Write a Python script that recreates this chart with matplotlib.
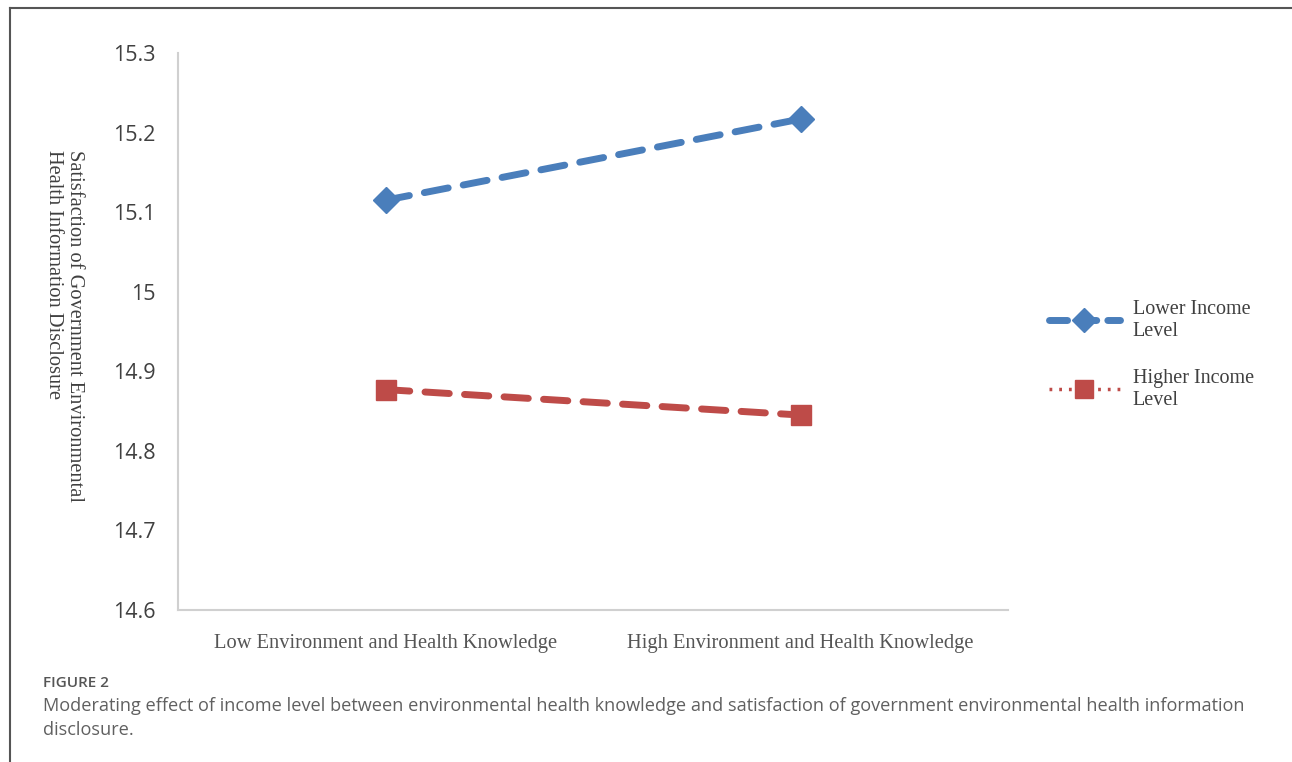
import numpy as np
import matplotlib.pyplot as plt
from matplotlib.lines import Line2D

# data
categories = ['Low Environment and Health Knowledge', 'High Environment and Health Knowledge']
lower_income = [15.115, 15.217]
higher_income = [14.877, 14.845]
series_names = ['Lower Income\nLevel', 'Higher Income\nLevel']
yticks = [14.6, 14.7, 14.8, 14.9, 15.0, 15.1, 15.2, 15.3]
ytick_labels = ['14.6', '14.7', '14.8', '14.9', '15', '15.1', '15.2', '15.3']

blue = '#4A7EBB'
red = '#BE4B48'
serif = 'Liberation Serif'
sans = 'Open Sans'

fig = plt.figure(figsize=(12.92, 7.62), dpi=100)
ax = fig.add_axes([178/1292, 1-610/762, 830/1292, 557/762])

x = np.arange(len(categories))
ax.plot(x, lower_income, color=blue, lw=5, ls=(0, (3.5, 2.2)), marker='D', ms=13,
        dash_capstyle='round')
ax.plot(x, higher_income, color=red, lw=5, ls=(0, (3.5, 2.2)), marker='s', ms=15,
        dash_capstyle='round')

ax.set_xlim(-0.5, 1.5)
ax.set_ylim(14.6, 15.3)
ax.set_yticks(yticks)
ax.set_yticklabels(ytick_labels, fontsize=15.5, family=sans, color='#404040')
ax.set_xticks(x)
ax.set_xticklabels(categories, fontsize=14.8, family=serif, color='#555555')
ax.tick_params(length=0)
ax.tick_params(axis='y', pad=16)
ax.tick_params(axis='x', pad=17)
for s in ['top', 'right']:
    ax.spines[s].set_visible(False)
for s in ['left', 'bottom']:
    ax.spines[s].set_color('#d0d0d0')
    ax.spines[s].set_linewidth(1.5)

fig.text(64/1292, 1-150/762, 'Satisfaction of Government Environmental\nHealth Information Disclosure',
         rotation=-90, ha='center', va='top', multialignment='left', fontsize=14.7,
         family=serif, color='#404040', linespacing=1.1)

handles = [
    Line2D([], [], color=blue, lw=5, ls=(0, (2.6, 1.6)), marker='D', ms=12, dash_capstyle='round'),
    Line2D([], [], color=red, lw=2.5, ls=(0, (0.8, 2.0)), marker='s', ms=13),
]
leg = fig.legend(handles, series_names, loc='center left', bbox_to_anchor=(1031/1292, 1-355/762),
                 frameon=False, prop={'family': serif, 'size': 14.5}, handlelength=3.5,
                 labelspacing=1.4, handletextpad=0.65, labelcolor='#404040')

# figure frame and caption
fig.add_artist(Line2D([10/1292, 10/1292], [0, 1-8/762], color='#555555', lw=1.5))
fig.add_artist(Line2D([10/1292, 1], [1-8/762, 1-8/762], color='#555555', lw=1.5))
fig.text(43/1292, 1-683/762, 'FIGURE 2', fontsize=11, family=sans, weight='semibold',
         color='#555555', va='center')
fig.text(43/1292, 1-706/762, 'Moderating effect of income level between environmental health knowledge and satisfaction of government environmental health information',
         fontsize=13.1, family=sans, color='#606060', va='center')
fig.text(43/1292, 1-730/762, 'disclosure.', fontsize=13.1, family=sans, color='#606060', va='center')

fig.savefig('out.png', dpi=100)
